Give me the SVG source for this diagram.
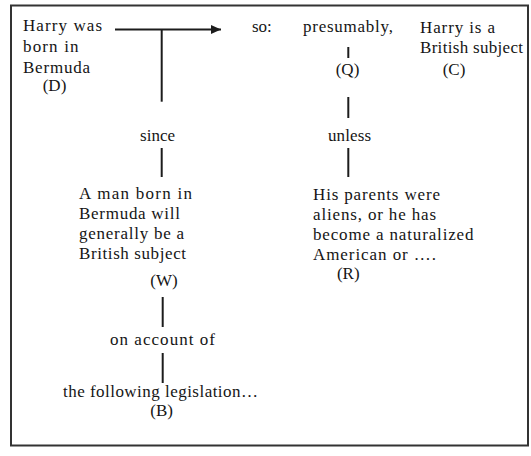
<svg xmlns="http://www.w3.org/2000/svg" width="531" height="456" viewBox="0 0 531 456">
<style>
text{font-family:"Liberation Serif","Times New Roman",serif;font-size:17px;fill:#151515}
.m{text-anchor:middle}
.c{stroke:#1c1c1c;stroke-width:2;fill:none}
</style>
<defs>
<marker id="ah" viewBox="0 0 10 9" refX="10" refY="4.5" markerWidth="10" markerHeight="9" markerUnits="userSpaceOnUse" orient="auto">
<path d="M0,0 L10,4.5 L0,9 Z" fill="#1c1c1c"/>
</marker>
</defs>
<rect width="531" height="456" fill="#fff"/>
<rect x="11" y="5.5" width="517" height="440" fill="#fff" stroke="#333" stroke-width="2"/>
<g id="connectors">
<path class="c" d="M115 29.5 H221" marker-end="url(#ah)"/>
<path class="c" d="M161.7 29.5 V101.7"/>
<path class="c" d="M348.3 47 V58" stroke-width="1.6"/>
<path class="c" d="M348.3 97 V118"/>
<path class="c" d="M348.3 148 V177"/>
<path class="c" d="M161.7 148 V177"/>
<path class="c" d="M162.7 297 V327"/>
<path class="c" d="M162.7 353 V383"/>
</g>
<g id="D">
<text x="23" y="31" textLength="79" lengthAdjust="spacing">Harry was</text>
<text x="23" y="52" textLength="55.5" lengthAdjust="spacing">born in</text>
<text x="23" y="73" textLength="67" lengthAdjust="spacing">Bermuda</text>
<text class="m" x="54.5" y="91">(D)</text>
</g>
<g id="so"><text x="252" y="32">so:</text></g>
<g id="Q">
<text x="303" y="32" textLength="90" lengthAdjust="spacing">presumably,</text>
<text class="m" x="347.5" y="75">(Q)</text>
</g>
<g id="C">
<text x="420" y="33" textLength="75" lengthAdjust="spacing">Harry is a</text>
<text x="420" y="53" textLength="103" lengthAdjust="spacing">British subject</text>
<text class="m" x="454" y="75">(C)</text>
</g>
<g id="since"><text x="140" y="141" textLength="35" lengthAdjust="spacing">since</text></g>
<g id="unless"><text x="328" y="141" textLength="43" lengthAdjust="spacing">unless</text></g>
<g id="W">
<text x="79" y="199" textLength="113" lengthAdjust="spacing">A man born in</text>
<text x="79" y="219" textLength="101" lengthAdjust="spacing">Bermuda will</text>
<text x="79" y="239" textLength="105" lengthAdjust="spacing">generally be a</text>
<text x="79" y="259" textLength="107" lengthAdjust="spacing">British subject</text>
<text class="m" x="164" y="286">(W)</text>
</g>
<g id="R">
<text x="313" y="200" textLength="127" lengthAdjust="spacing">His parents were</text>
<text x="313" y="220" textLength="123" lengthAdjust="spacing">aliens, or he has</text>
<text x="313" y="239.5" textLength="160.5" lengthAdjust="spacing">become a naturalized</text>
<text x="313" y="259.5" textLength="123" lengthAdjust="spacing">American or ….</text>
<text class="m" x="348.3" y="279">(R)</text>
</g>
<g id="onaccount"><text x="110" y="345" textLength="105" lengthAdjust="spacing">on account of</text></g>
<g id="B">
<text x="63" y="397" textLength="195" lengthAdjust="spacing">the following legislation…</text>
<text class="m" x="161.7" y="416">(B)</text>
</g>
</svg>
